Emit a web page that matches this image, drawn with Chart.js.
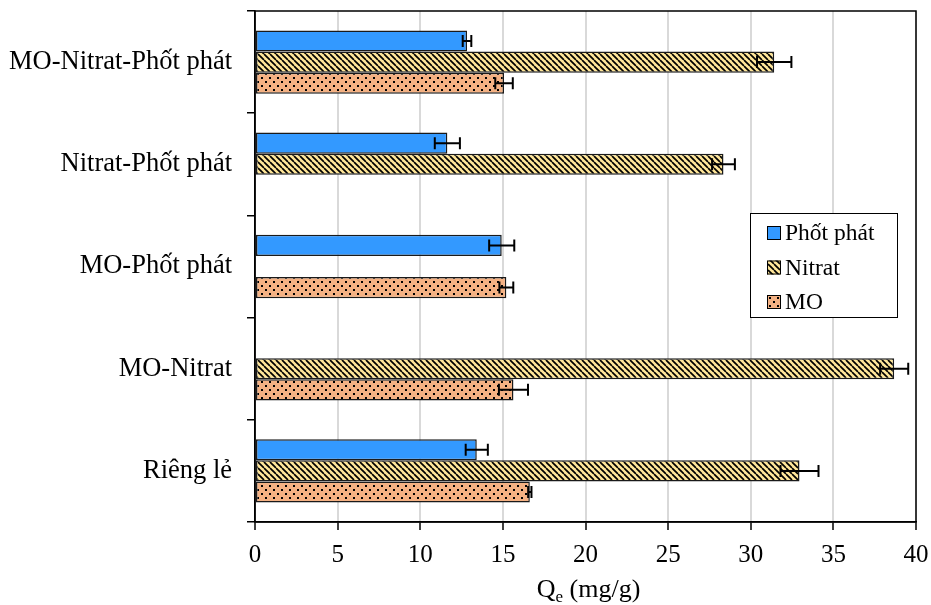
<!DOCTYPE html>
<html>
<head>
<meta charset="utf-8">
<script src="https://cdn.jsdelivr.net/npm/chart.js@4.4.1/dist/chart.umd.min.js"></script>
<style>
  body { margin: 0; background: #fff; }
  #wrap { width: 931px; height: 605px; }
</style>
</head>
<body>
<div id="wrap"><canvas id="myChart" width="931" height="605"></canvas></div>
<script>
// dữ liệu
const categories = ["MO-Nitrat-Phốt phát", "Nitrat-Phốt phát", "MO-Phốt phát", "MO-Nitrat", "Riêng lẻ"];
const seriesNames = ["Phốt phát", "Nitrat", "MO"];
const photphat = [12.83, 11.64, 14.93, null, 13.42];
const photphatErr = [0.26, 0.76, 0.76, null, 0.67];
const nitrat = [31.42, 28.35, null, 38.68, 32.95];
const nitratErr = [1.04, 0.69, null, 0.85, 1.15];
const mo = [15.07, null, 15.21, 15.64, 16.63];
const moErr = [0.53, null, 0.42, 0.88, 0.1];
const xTicks = [0, 5, 10, 15, 20, 25, 30, 35, 40];

const FONT = "'Liberation Serif', 'Times New Roman', serif";

// tạo mẫu tô (sọc chéo, chấm)
function stripePattern(bg) {
    const c = document.createElement("canvas");
    c.width = 6; c.height = 6;
    const g = c.getContext("2d");
    g.fillStyle = bg;
    g.fillRect(0, 0, 6, 6);
    g.strokeStyle = "#000";
    g.lineWidth = 1.7;
    [-6, 0, 6].forEach(k => {
        g.beginPath();
        g.moveTo(k, 0);
        g.lineTo(k + 6, 6);
        g.stroke();
    });
    return g.createPattern(c, "repeat");
}

function dotPattern(bg) {
    const c = document.createElement("canvas");
    c.width = 8; c.height = 8;
    const g = c.getContext("2d");
    g.fillStyle = bg;
    g.fillRect(0, 0, 8, 8);
    g.fillStyle = "#000";
    g.fillRect(1, 1, 2, 2);
    g.fillRect(5, 5, 2, 2);
    return g.createPattern(c, "repeat");
}

const fills = ["#3399FF", stripePattern("#FFE699"), dotPattern("#F4B183")];
const errors = [photphatErr, nitratErr, moErr];

// vẽ thanh sai số
const errorBars = {
    id: "errorBars",
    afterDatasetsDraw(chart) {
        const ctx = chart.ctx;
        const xs = chart.scales.x;
        ctx.save();
        ctx.strokeStyle = "#000";
        ctx.lineWidth = 2;
        chart.data.datasets.forEach((ds, i) => {
            const meta = chart.getDatasetMeta(i);
            meta.data.forEach((bar, j) => {
                const v = ds.data[j];
                const e = errors[i][j];
                if (v === null || e === null) return;
                const lo = xs.getPixelForValue(v - e);
                const hi = xs.getPixelForValue(v + e);
                const y = bar.y;
                ctx.beginPath();
                ctx.moveTo(lo, y); ctx.lineTo(hi, y);
                ctx.moveTo(lo, y - 6); ctx.lineTo(lo, y + 6);
                ctx.moveTo(hi, y - 6); ctx.lineTo(hi, y + 6);
                ctx.stroke();
            });
        });
        ctx.restore();
    }
};

// khung, chú thích và tiêu đề trục
const decorations = {
    id: "decorations",
    afterDraw(chart) {
        const ctx = chart.ctx;
        const a = chart.chartArea;
        ctx.save();
        ctx.strokeStyle = "#000";
        ctx.lineWidth = 1.5;
        ctx.strokeRect(a.left, a.top, a.right - a.left, a.bottom - a.top);

        // chú thích
        const lx = 750, ly = 213, lw = 147, lh = 104;
        ctx.fillStyle = "#fff";
        ctx.fillRect(lx, ly, lw, lh);
        ctx.lineWidth = 1;
        ctx.strokeRect(lx + 0.5, ly + 0.5, lw, lh);
        ctx.font = "23.5px " + FONT;
        ctx.textBaseline = "middle";
        ctx.textAlign = "left";
        seriesNames.forEach((name, i) => {
            const cy = ly + 20 + i * 34.5;
            ctx.fillStyle = fills[i];
            ctx.fillRect(767, cy - 7, 14, 14);
            ctx.strokeStyle = "#000";
            ctx.strokeRect(767.5, cy - 6.5, 13, 13);
            ctx.fillStyle = "#000";
            ctx.fillText(name, 785, cy + 1);
        });

        // tiêu đề trục x: Qe (mg/g)
        const big = "26px " + FONT, small = "17px " + FONT;
        ctx.font = big;
        const wQ = ctx.measureText("Q").width;
        const wRest = ctx.measureText(" (mg/g)").width;
        ctx.font = small;
        const wE = ctx.measureText("e").width;
        const total = wQ + wE + wRest;
        let x = (a.left + a.right) / 2 + 3 - total / 2;
        const base = 597;
        ctx.textBaseline = "alphabetic";
        ctx.fillStyle = "#000";
        ctx.font = big;
        ctx.fillText("Q", x, base);
        x += wQ;
        ctx.font = small;
        ctx.fillText("e", x, base + 5);
        x += wE;
        ctx.font = big;
        ctx.fillText(" (mg/g)", x, base);
        ctx.restore();
    }
};

const ctx = document.getElementById("myChart").getContext("2d");
const myChart = new Chart(ctx, {
    type: "bar",
    data: {
        labels: categories,
        datasets: seriesNames.map((name, i) => ({
            label: name,
            data: [photphat, nitrat, mo][i],
            backgroundColor: fills[i],
            borderColor: "#1a1a1a",
            borderWidth: 1.5,
            borderSkipped: false,
            categoryPercentage: 0.62,
            barPercentage: 1.0
        }))
    },
    options: {
        indexAxis: "y",
        responsive: false,
        animation: false,
        layout: { padding: { top: 11, right: 15, left: 0, bottom: 0 } },
        plugins: {
            legend: { display: false },
            tooltip: { enabled: false }
        },
        scales: {
            x: {
                min: 0,
                max: 40,
                afterBuildTicks: (scale) => { scale.ticks = xTicks.map(v => ({ value: v })); },
                afterFit: (scale) => {
                    scale.height = 83;
                    scale.paddingLeft = 0;
                    scale.paddingRight = 0;
                },
                grid: {
                    color: "#d9d9d9",
                    lineWidth: 2,
                    tickColor: "#000",
                    tickLength: 8,
                    tickWidth: 1.5
                },
                border: { color: "#000", width: 1.5 },
                ticks: {
                    color: "#000",
                    padding: 10,
                    font: { family: FONT, size: 25 }
                }
            },
            y: {
                afterFit: (scale) => {
                    scale.width = 255;
                    scale.paddingTop = 0;
                    scale.paddingBottom = 0;
                },
                grid: {
                    offset: true,
                    drawOnChartArea: false,
                    color: "#000",
                    tickLength: 8,
                    lineWidth: 1.5
                },
                border: { color: "#000", width: 1.5 },
                ticks: {
                    color: "#000",
                    padding: 15,
                    font: { family: FONT, size: 26.5 }
                }
            }
        }
    },
    plugins: [errorBars, decorations]
});
</script>
</body>
</html>
